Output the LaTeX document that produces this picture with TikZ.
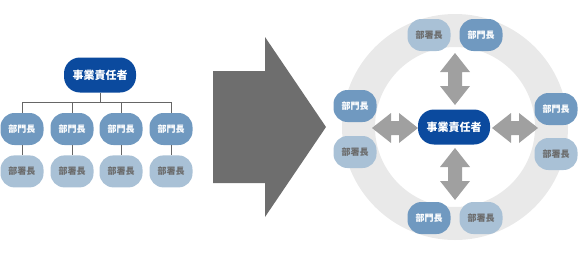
\documentclass[tikz,border=0pt]{standalone}
\usepackage{fontspec}
\newfontfamily\cjk{Noto Sans CJK JP}
\usetikzlibrary{positioning}
\definecolor{chiefblue}{HTML}{0B4A9E}
\definecolor{headblue}{HTML}{7099C0}
\definecolor{subblue}{HTML}{A9C1D6}
\definecolor{ringgray}{HTML}{E9E9E9}
\definecolor{bigarrow}{HTML}{6E6E6E}
\definecolor{smallarrow}{HTML}{A0A0A0}

\begin{document}
\begin{tikzpicture}[x=1pt, y=-1pt, node distance=10pt and 8pt,
    chief/.style={rectangle, fill=chiefblue, text=white, minimum width=72pt, minimum height=35pt, rounded corners=16pt, font=\cjk\bfseries\fontsize{11}{11}\selectfont, inner sep=0pt},
    head/.style={rectangle, fill=headblue, text=white, minimum width=43pt, minimum height=32pt, rounded corners=14pt, font=\cjk\bfseries\fontsize{9}{9}\selectfont, inner sep=0pt},
    sub/.style={head, fill=subblue, text=black!58},
    link/.style={draw=black!60, line width=0.9pt},
    block/.style={fill=smallarrow, draw=none}]

    \useasboundingbox (0,0) rectangle (584,252);

    % Organigrama (izquierda)
    \node [chief] (chiefL) at (100,75) {事業責任者};
    \coordinate (bar) at (100,102);
    \foreach \i/\x in {1/22, 2/72, 3/121, 4/171} {
        \node [head] (headL\i) at (\x,129) {部門長};
        \node [sub, below=of headL\i] (subL\i) {部署長};
        \draw[link] (headL\i) -- (subL\i);
        \draw[link] (headL\i.north) -- (headL\i.north |- bar);
    }
    \draw[link] (chiefL) -- (bar);
    \draw[link] (headL1.north |- bar) -- (headL4.north |- bar);

    % Flecha grande
    \draw[fill=bigarrow, draw=none] (213,71) -- (265,71) -- (265,37) -- (326,127)
        -- (265,217) -- (265,183) -- (213,183) -- cycle;

    % Anillo
    \draw[ringgray, line width=33pt] (455,127) circle (96.5);

    % Flechas dobles
    \foreach \cx/\cy/\ang/\len in {455/79/90/26, 455/174/90/26, 395/128/0/23, 515/128/0/23} {
        \begin{scope}[shift={(\cx,\cy)}, rotate=\ang]
            \fill[block] (-\len,0) -- (-\len+19,15) -- (-\len+19,7) -- (\len-19,7)
                -- (\len-19,15) -- (\len,0) -- (\len-19,-15) -- (\len-19,-7)
                -- (-\len+19,-7) -- (-\len+19,-15) -- cycle;
        \end{scope}
    }

    % Nodos del anillo
    \node [chief] (chiefR) at (454,127) {事業責任者};
    \node [sub] (subT) at (429,35) {部署長};
    \node [head] (headT) at (481,35) {部門長};
    \node [head] (headB) at (429,218) {部門長};
    \node [sub] (subB) at (481,218) {部署長};
    \node [head] (headW) at (355,106) {部門長};
    \node [sub] (subW) at (355,152) {部署長};
    \node [head] (headE) at (556,109) {部門長};
    \node [sub] (subE) at (556,154) {部署長};

\end{tikzpicture}
\end{document}
